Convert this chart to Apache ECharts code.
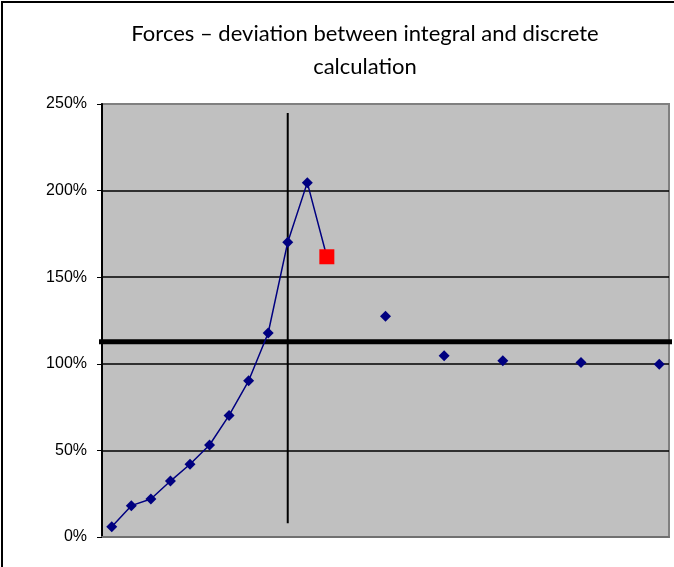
<!DOCTYPE html>
<html>
<head>
<meta charset="utf-8">
<script src="https://cdn.jsdelivr.net/npm/echarts@6/dist/echarts.min.js"></script>
<style>
  html, body { margin: 0; padding: 0; background: #fff; }
  #chart { width: 674px; height: 567px; }
</style>
</head>
<body>
<div id="chart"></div>
<script>
// Connected series: step index and deviation ratio (1 = 100%)
const stepX = [1, 2, 3, 4, 5, 6, 7, 8, 9, 10, 11, 12];
const deviation = [0.059, 0.181, 0.219, 0.323, 0.420, 0.531, 0.702, 0.902, 1.178, 1.702, 2.046, 1.618];
// Isolated points further out
const farX = [15, 18, 21, 25, 29];
const farDeviation = [1.274, 1.046, 1.017, 1.008, 0.998];
// Reference lines
const markerX = 10;
const markerSpan = [0.079, 2.448];
const thresholdLevel = 1.127;
const thresholdSpan = [0.15, 29.8];
// Axis settings
const yTicks = [0, 0.5, 1.0, 1.5, 2.0, 2.5];
const titleText = 'Forces – deviation between integral and discrete\ncalculation';

const lineData = stepX.map((x, i) => {
  const item = { value: [x, deviation[i]] };
  if (i === stepX.length - 1) {
    item.symbol = 'rect';
    item.symbolSize = 15;
    item.itemStyle = { color: '#ff0000' };
  }
  return item;
});

const chart = echarts.init(document.getElementById('chart'), null, { renderer: 'canvas' });
chart.setOption({
  animation: false,
  backgroundColor: '#ffffff',
  title: {
    text: titleText,
    left: 360,
    top: 12,
    textAlign: 'center',
    textStyle: {
      fontFamily: 'Lato',
      fontSize: 22,
      fontWeight: 'normal',
      color: '#000',
      lineHeight: 33
    }
  },
  graphic: [{
    type: 'rect',
    shape: { x: 2, y: 2, width: 720, height: 620 },
    style: { fill: 'none', stroke: '#000', lineWidth: 2 },
    silent: true,
    z: 100
  }],
  grid: {
    left: 102, right: 5, top: 104, bottom: 30,
    show: true,
    backgroundColor: '#c0c0c0',
    borderColor: '#808080',
    borderWidth: 2
  },
  xAxis: {
    type: 'value',
    min: 0.5,
    max: 29.5,
    axisLine: { show: true, lineStyle: { color: '#707070', width: 2 } },
    axisTick: { show: false },
    axisLabel: { show: false },
    splitLine: { show: false }
  },
  yAxis: {
    type: 'value',
    min: yTicks[0],
    max: yTicks[yTicks.length - 1],
    interval: 0.5,
    axisLine: { show: true, lineStyle: { color: '#000', width: 2 } },
    axisTick: { show: true, length: 5, lineStyle: { color: '#000', width: 1 } },
    axisLabel: {
      margin: 15,
      color: '#000',
      fontFamily: 'Liberation Sans',
      fontSize: 16,
      formatter: v => Math.round(v * 100) + '%'
    },
    splitLine: { show: true, showMinLine: false, showMaxLine: false, lineStyle: { color: '#000', width: 1.5 } }
  },
  series: [
    {
      type: 'line',
      data: lineData,
      symbol: 'diamond',
      symbolSize: 11,
      lineStyle: { color: '#000080', width: 1.5 },
      itemStyle: { color: '#000080' },
      z: 5
    },
    {
      type: 'scatter',
      data: farX.map((x, i) => [x, farDeviation[i]]),
      symbol: 'diamond',
      symbolSize: 11,
      itemStyle: { color: '#000080', opacity: 1 },
      z: 5
    },
    {
      type: 'line',
      data: markerSpan.map(v => [markerX, v]),
      symbol: 'none',
      lineStyle: { color: '#000', width: 2 },
      z: 4
    },
    {
      type: 'line',
      data: thresholdSpan.map(x => [x, thresholdLevel]),
      symbol: 'none',
      clip: false,
      lineStyle: { color: '#000', width: 5 },
      z: 4
    }
  ]
});
</script>
</body>
</html>
